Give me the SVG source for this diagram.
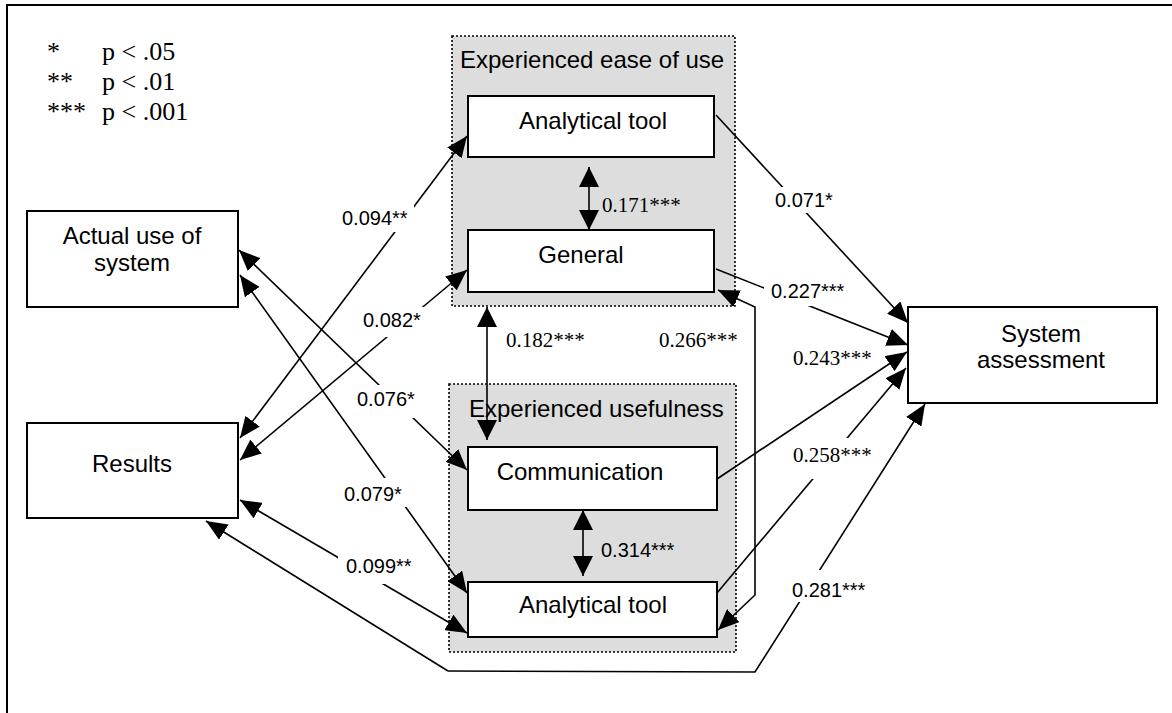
<svg xmlns="http://www.w3.org/2000/svg" width="1172" height="713" viewBox="0 0 1172 713">
  <defs>
    <style>
      .frame { fill: none; stroke: #000; stroke-width: 2; }
      .group { fill: #dddddd; stroke: #000; stroke-width: 1.6; stroke-dasharray: 2 2; }
      .box { fill: #fff; stroke: #000; stroke-width: 2; }
      .lbl { font-family: "Liberation Sans", Arial, sans-serif; font-size: 24px; fill: #000; }
      .num { font-family: "Liberation Sans", Arial, sans-serif; font-size: 20px; fill: #000; }
      .ser { font-family: "Liberation Serif", "Times New Roman", serif; font-size: 21px; fill: #000; }
      .leg { font-family: "Liberation Serif", "Times New Roman", serif; font-size: 26px; fill: #000; }
      .ln { fill: none; stroke: #000; stroke-width: 1.6; }
      .both { marker-start: url(#ah); marker-end: url(#ah); }
      .one { marker-end: url(#ah); }
      .vert { marker-start: url(#av); marker-end: url(#av); }
      .bg { fill: #fff; }
    </style>
    <marker id="ah" viewBox="0 0 21 18" refX="21" refY="9" markerWidth="21" markerHeight="18" markerUnits="userSpaceOnUse" orient="auto-start-reverse">
      <path d="M0,0 L21,9 L0,18 z" fill="#000"/>
    </marker>
    <marker id="av" viewBox="0 0 20 20" refX="20" refY="10" markerWidth="20" markerHeight="20" markerUnits="userSpaceOnUse" orient="auto-start-reverse">
      <path d="M0,0 L20,10 L0,20 z" fill="#000"/>
    </marker>
  </defs>

  <!-- page frame (top and left edges) -->
  <path class="frame" d="M7,713 L7,5 L1172,5"/>

  <!-- significance legend -->
  <g id="legend">
    <text class="leg" x="47" y="60">*</text>
    <text class="leg" x="102" y="60">p &lt; .05</text>
    <text class="leg" x="47" y="90">**</text>
    <text class="leg" x="102" y="90">p &lt; .01</text>
    <text class="leg" x="47" y="120">***</text>
    <text class="leg" x="102" y="120">p &lt; .001</text>
  </g>

  <!-- construct groups -->
  <g id="ease-of-use">
    <rect class="group" x="452" y="36" width="283" height="270"/>
    <text class="lbl" x="460" y="68">Experienced ease of use</text>
  </g>
  <g id="usefulness">
    <rect class="group" x="449" y="384" width="287" height="268"/>
    <text class="lbl" x="469" y="417">Experienced usefulness</text>
  </g>

  <!-- nodes -->
  <g id="actual-use">
    <rect class="box" x="27" y="211" width="211" height="96"/>
    <text class="lbl" x="132" y="244" text-anchor="middle">Actual use of</text>
    <text class="lbl" x="132" y="271" text-anchor="middle">system</text>
  </g>
  <g id="results">
    <rect class="box" x="27" y="423" width="211" height="95"/>
    <text class="lbl" x="132" y="472" text-anchor="middle">Results</text>
  </g>
  <g id="eou-analytical">
    <rect class="box" x="468" y="96" width="246" height="61"/>
    <text class="lbl" x="593" y="129" text-anchor="middle">Analytical tool</text>
  </g>
  <g id="eou-general">
    <rect class="box" x="468" y="230" width="246" height="62"/>
    <text class="lbl" x="581" y="263" text-anchor="middle">General</text>
  </g>
  <g id="use-communication">
    <rect class="box" x="468" y="447" width="249" height="63"/>
    <text class="lbl" x="580" y="480" text-anchor="middle">Communication</text>
  </g>
  <g id="use-analytical">
    <rect class="box" x="468" y="582" width="249" height="55"/>
    <text class="lbl" x="593" y="613" text-anchor="middle">Analytical tool</text>
  </g>
  <g id="system-assessment">
    <rect class="box" x="908" y="307" width="249" height="96"/>
    <text class="lbl" x="1041" y="342" text-anchor="middle">System</text>
    <text class="lbl" x="1041" y="368" text-anchor="middle">assessment</text>
  </g>

  <!-- connectors -->
  <g id="connectors">
    <line class="ln both" x1="240" y1="438" x2="467" y2="136"/>
    <line class="ln both" x1="240" y1="460" x2="467" y2="270"/>
    <line class="ln both" x1="239" y1="250" x2="467" y2="470"/>
    <line class="ln both" x1="240" y1="275" x2="467" y2="593"/>
    <line class="ln both" x1="240" y1="500" x2="467" y2="633"/>
    <line class="ln one" x1="716" y1="115" x2="908" y2="323"/>
    <line class="ln one" x1="716" y1="269" x2="908" y2="345"/>
    <line class="ln one" x1="717" y1="479" x2="907" y2="352"/>
    <line class="ln one" x1="717" y1="593" x2="906" y2="368"/>
    <polyline class="ln both" points="718,290 755,307 755,595 718,630"/>
    <line class="ln vert" x1="589" y1="167" x2="589" y2="230"/>
    <line class="ln vert" x1="487" y1="307" x2="487" y2="440"/>
    <line class="ln vert" x1="583" y1="510" x2="583" y2="576"/>
    <!-- long return path Results - System assessment -->
    <path class="ln" d="M206,521 L448,671" stroke-width="2.6" marker-start="url(#ah)"/>
    <path class="ln" d="M448,671 L755,672 L925,404" marker-end="url(#ah)"/>
  </g>

  <!-- coefficient labels -->
  <g id="labels">
    <rect class="bg" x="338" y="201" width="76" height="31"/>
    <text class="num" x="342" y="225">0.094**</text>
    <rect class="bg" x="360" y="307" width="68" height="30"/>
    <text class="num" x="363" y="327">0.082*</text>
    <rect class="bg" x="354" y="385" width="76" height="33"/>
    <text class="num" x="357" y="406" font-size="22">0.076*</text>
    <rect class="bg" x="341" y="478" width="70" height="29"/>
    <text class="num" x="344" y="501">0.079*</text>
    <rect class="bg" x="338" y="556" width="80" height="28"/>
    <text class="num" x="346" y="573">0.099**</text>
    <rect class="bg" x="772" y="187" width="66" height="26"/>
    <text class="num" x="775" y="207">0.071*</text>
    <rect class="bg" x="764" y="278" width="86" height="28"/>
    <text class="num" x="771" y="298">0.227***</text>
    <rect class="bg" x="790" y="570" width="82" height="32"/>
    <text class="num" x="792" y="597">0.281***</text>
    <rect class="bg" x="790" y="438" width="85" height="41"/>
    <text class="ser" x="793" y="462">0.258***</text>
    <text class="ser" x="793" y="365">0.243***</text>
    <text class="ser" x="602" y="212">0.171***</text>
    <text class="ser" x="506" y="347">0.182***</text>
    <text class="ser" x="659" y="347">0.266***</text>
    <text class="num" x="601" y="557">0.314***</text>
  </g>
</svg>
